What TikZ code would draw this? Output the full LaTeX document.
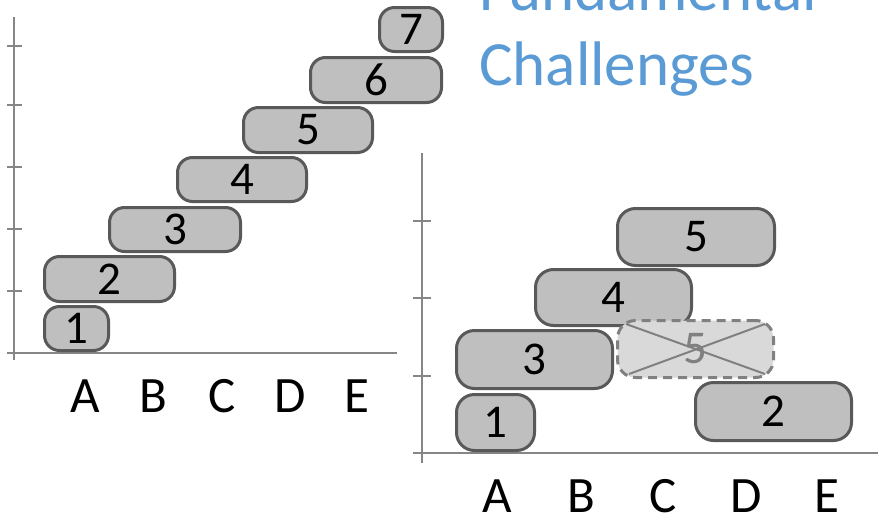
\documentclass[tikz,border=0pt]{standalone}
\usepackage{fontspec}
\setmainfont{Carlito}
\usepackage{tikz}
\definecolor{chipfill}{RGB}{191,191,191}
\definecolor{chipline}{RGB}{89,89,89}
\definecolor{ghostfill}{RGB}{217,217,217}
\definecolor{ghostline}{RGB}{128,128,128}
\definecolor{axisgray}{RGB}{134,134,134}
\definecolor{titleblue}{RGB}{91,155,213}
\tikzset{
  chip/.style={draw=chipline,fill=chipfill,line width=3pt,rounded corners=15pt,
    inner sep=0pt,font=\fontsize{47}{50}\selectfont},
  ghost/.style={chip,draw=ghostline,fill=ghostfill,text=ghostline,
    dash pattern=on 9pt off 6pt},
  axisline/.style={draw=axisgray,line width=2pt},
  letter/.style={font=\fontsize{51}{54}\selectfont}
}

\begin{document}
\begin{tikzpicture}[x=1pt,y=-1pt]
\useasboundingbox (0,0) rectangle (879,520);
\clip (0,0) rectangle (879,520);

% title
\node[anchor=base west,text=titleblue,font=\fontsize{63}{80}\selectfont,inner sep=0pt] (ttop) at (479,10) {Fundamental};
\node[anchor=base west,text=titleblue,font=\fontsize{63}{80}\selectfont,inner sep=0pt] (ttl) at (479,85) {Challenges};

% left axes
\draw[axisline] (14,17) -- (14,360);
\draw[axisline] (7,353) -- (397,353);
\foreach \y in {46,105,167,229,291}{
  \draw[axisline] (7,\y) -- (22,\y);
}

% left chips
\node[chip,minimum width=64pt,minimum height=44pt] (l1) at (76.5,328.5) {1};
\node[chip,minimum width=130pt,minimum height=45pt] (l2) at (109.5,279) {2};
\node[chip,minimum width=131pt,minimum height=44pt] (l3) at (175,229.5) {3};
\node[chip,minimum width=129pt,minimum height=44pt] (l4) at (242,179.5) {4};
\node[chip,minimum width=129pt,minimum height=45pt] (l5) at (308,130) {5};
\node[chip,minimum width=131pt,minimum height=45pt] (l6) at (376,80) {6};
\node[chip,minimum width=63pt,minimum height=44pt] (l7) at (411,29.5) {7};

% left labels
\foreach \l/\x in {A/85,B/153,C/222,D/290,E/357}{
  \node[letter] (la\l) at (\x,396) {\l};
}

% right axes
\draw[axisline] (422,153) -- (422,463);
\draw[axisline] (413,453) -- (878,453);
\foreach \y in {221,298,376}{
  \draw[axisline] (413,\y) -- (431,\y);
}

% right chips
\node[chip,rounded corners=18pt,minimum width=78pt,minimum height=56pt] (r1) at (495.5,422.5) {1};
\node[chip,rounded corners=18pt,minimum width=156pt,minimum height=58pt] (r3) at (534.5,359.5) {3};
\node[chip,rounded corners=18pt,minimum width=156pt,minimum height=56pt] (r4) at (613.5,297.5) {4};
\node[chip,rounded corners=18pt,minimum width=157pt,minimum height=57pt] (r5) at (696,237) {5};
\node[ghost,rounded corners=18pt,minimum width=156pt,minimum height=57pt] (x5) at (695.5,349) {5};
\node[chip,rounded corners=18pt,minimum width=156pt,minimum height=58pt] (r2) at (773.5,411.5) {2};

% cross over the dropped chip
\draw[draw=ghostline,line width=2pt] ([shift={(10pt,-5pt)}]x5.north west) -- ([shift={(-10pt,5pt)}]x5.south east);
\draw[draw=ghostline,line width=2pt] ([shift={(13pt,5pt)}]x5.south west) -- ([shift={(-10pt,-5pt)}]x5.north east);

% right labels
\foreach \l/\x in {A/497,B/581,C/663,D/746,E/827}{
  \node[letter] (ra\l) at (\x,496.5) {\l};
}

\end{tikzpicture}
\end{document}
